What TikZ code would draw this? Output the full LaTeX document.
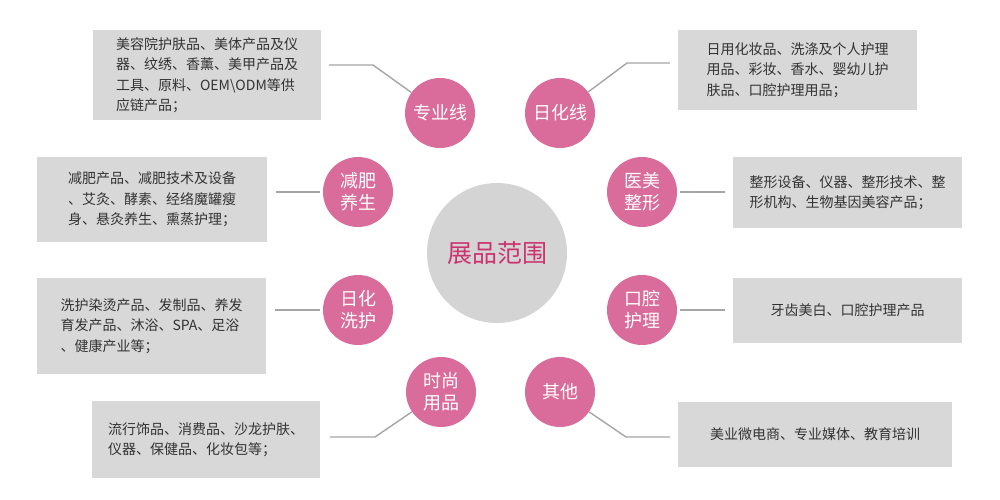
\documentclass[tikz,border=0pt]{standalone}
\usepackage{fontspec}
\setmainfont{Noto Sans CJK SC}
\usepackage{xcolor}
\usepackage{tikz}

\definecolor{rose}{RGB}{217,108,154}
\definecolor{boxgray}{RGB}{216,216,216}
\definecolor{hubgray}{RGB}{212,212,212}
\definecolor{hubtext}{RGB}{204,52,112}
\definecolor{linkgray}{RGB}{165,165,165}

\begin{document}
\begin{tikzpicture}[x=1pt,y=-1pt,
    itembox/.style={fill=boxgray,inner sep=0pt,align=left,text=black!80,
      font=\fontsize{14}{20.5}\selectfont},
    tag/.style={circle,fill=rose,minimum size=70pt,inner sep=0pt,align=center,
      text=white,font=\fontsize{18}{22}\selectfont},
    link/.style={linkgray,line width=1.4pt}]
    \useasboundingbox (0,0) rectangle (1000,500);

    % centre
    \node[circle,fill=hubgray,minimum size=140pt,inner sep=0pt,text=hubtext,
      font=\fontsize{25}{30}\selectfont] (hub) at (497,253) {展品范围};

    % categories
    \node[tag] (zyx)  at (440,113) {专业线};
    \node[tag] (rhx)  at (560,113) {日化线};
    \node[tag] (jfys) at (358,192) {减肥\\养生};
    \node[tag] (ymzx) at (642,192) {医美\\整形};
    \node[tag] (rhxh) at (358,310) {日化\\洗护};
    \node[tag] (kqhl) at (642,310) {口腔\\护理};
    \node[tag] (sspp) at (441,392) {时尚\\用品};
    \node[tag] (qt)   at (560,392) {其他};

    % product lists
    \node[itembox,minimum width=228pt,minimum height=90pt] (p1) at (207,75)
      {美容院护肤品、美体产品及仪\\器、纹绣、香薰、美甲产品及\\工具、原料、OEM\textbackslash ODM等供\\应链产品；};
    \node[itembox,minimum width=239pt,minimum height=80pt] (p2) at (797.5,70)
      {日用化妆品、洗涤及个人护理\\用品、彩妆、香水、婴幼儿护\\肤品、口腔护理用品；};
    \node[itembox,minimum width=230pt,minimum height=85pt] (p3) at (152,199.5)
      {减肥产品、减肥技术及设备\\、艾灸、酵素、经络魔罐瘦\\身、悬灸养生、熏蒸护理；};
    \node[itembox,minimum width=229pt,minimum height=71pt] (p4) at (847.5,192.5)
      {整形设备、仪器、整形技术、整\\形机构、生物基因美容产品；};
    \node[itembox,minimum width=229pt,minimum height=96pt] (p5) at (151.5,326)
      {洗护染烫产品、发制品、养发\\育发产品、沐浴、SPA、足浴\\、健康产业等；};
    \node[itembox,minimum width=229pt,minimum height=65pt] (p6) at (847.5,310.5)
      {牙齿美白、口腔护理产品};
    \node[itembox,minimum width=228pt,minimum height=77pt] (p7) at (206,439.5)
      {流行饰品、消费品、沙龙护肤、\\仪器、保健品、化妆包等；};
    \node[itembox,minimum width=274pt,minimum height=65pt] (p8) at (815,434.5)
      {美业微电商、专业媒体、教育培训};

    % connectors
    \coordinate (k1) at (373,65);
    \coordinate (k2) at (627,63);
    \coordinate (k7) at (375,437);
    \coordinate (k8) at (626,437);
    \draw[link] ([xshift=8pt]p1.east |- k1) -- (k1) -- (zyx);
    \draw[link] ([xshift=-8pt]p2.west |- k2) -- (k2) -- (rhx);
    \draw[link] ([xshift=10pt]p7.east |- k7) -- (k7) -- (sspp);
    \draw[link] ([xshift=-8pt]p8.west |- k8) -- (k8) -- (qt);
    \draw[link,shorten <=3pt,shorten >=9pt] (jfys.west) -- (jfys.west -| p3.east);
    \draw[link,shorten <=3pt,shorten >=9pt] (rhxh.west) -- (rhxh.west -| p5.east);
    \draw[link,shorten <=3pt,shorten >=8pt] (ymzx.east) -- (ymzx.east -| p4.west);
    \draw[link,shorten <=3pt,shorten >=8pt] (kqhl.east) -- (kqhl.east -| p6.west);
\end{tikzpicture}
\end{document}
